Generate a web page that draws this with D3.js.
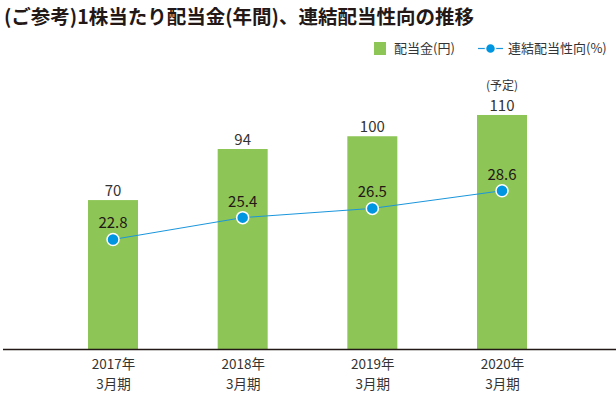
<!DOCTYPE html>
<html>
<head>
<meta charset="utf-8">
<script src="https://cdn.jsdelivr.net/npm/d3@7"></script>
<style>
  body { margin: 0; background: #fff; }
  svg { display: block; font-family: "Noto Sans CJK JP", "Noto Sans", sans-serif; }
</style>
</head>
<body>
<div id="chart"></div>
<script>
var years = ["2017年", "2018年", "2019年", "2020年"];
var periodLabel = "3月期";
var dividends = [70, 94, 100, 110];
var payoutRatios = [22.8, 25.4, 26.5, 28.6];
var forecastNote = ["", "", "", "(予定)"];

var width = 616, height = 397;
var svg = d3.select("#chart").append("svg")
    .attr("width", width)
    .attr("height", height);

var data = years.map(function(y, i) {
    return { year: y, dividend: dividends[i], ratio: payoutRatios[i], note: forecastNote[i] };
});

// title
svg.append("text")
    .attr("x", 4)
    .attr("y", 24)
    .style("font-size", "19.5px")
    .style("font-weight", "bold")
    .style("fill", "#231815")
    .text("(ご参考)1株当たり配当金(年間)、連結配当性向の推移");

// scales
var x = d3.scalePoint().domain(years).range([113, 502]);
var yBar = d3.scaleLinear().domain([0, 120]).range([349, 93.7]);
var yLine = d3.scaleLinear().domain([0, 40]).range([431, 95]);
var barWidth = 50;

// bars
svg.selectAll(".bar")
    .data(data)
    .enter()
    .append("rect")
    .attr("class", "bar")
    .attr("x", function(d) { return x(d.year) - barWidth / 2; })
    .attr("y", function(d) { return yBar(d.dividend); })
    .attr("width", barWidth)
    .attr("height", function(d) { return yBar(0) - yBar(d.dividend); })
    .style("fill", "#8dc556");

// bar value labels
svg.selectAll(".barLabel")
    .data(data)
    .enter()
    .append("text")
    .attr("x", function(d) { return x(d.year); })
    .attr("y", function(d) { return yBar(d.dividend) - 4; })
    .attr("text-anchor", "middle")
    .style("font-size", "15px")
    .style("fill", "#333")
    .text(function(d) { return d.dividend; });

// forecast note above the last bar
svg.selectAll(".note")
    .data(data.filter(function(d) { return d.note; }))
    .enter()
    .append("text")
    .attr("x", function(d) { return x(d.year); })
    .attr("y", function(d) { return yBar(d.dividend) - 25; })
    .attr("text-anchor", "middle")
    .style("font-size", "12px")
    .style("fill", "#333")
    .text(function(d) { return d.note; });

// baseline
svg.append("line")
    .attr("x1", 3)
    .attr("x2", width)
    .attr("y1", yBar(0) + 0.5)
    .attr("y2", yBar(0) + 0.5)
    .style("stroke", "#231815")
    .style("stroke-width", 1.5);

// x axis labels (two lines each)
var xAxis = d3.axisBottom(x).tickSize(0).tickPadding(0);
var gx = svg.append("g")
    .attr("transform", "translate(0," + yBar(0) + ")")
    .call(xAxis);
gx.select(".domain").remove();
gx.selectAll(".tick text").each(function(d) {
    var t = d3.select(this);
    t.text(null)
        .attr("y", 0)
        .attr("dy", null)
        .style("font-size", "13.5px")
        .style("fill", "#333")
        .style("font-family", "\"Noto Sans CJK JP\", sans-serif");
    t.append("tspan").attr("x", 0).attr("y", 20).text(d);
    t.append("tspan").attr("x", 0).attr("y", 40).text(periodLabel);
});

// payout ratio line
var line = d3.line()
    .x(function(d) { return x(d.year); })
    .y(function(d) { return yLine(d.ratio); });

svg.append("path")
    .datum(data)
    .attr("d", line)
    .style("fill", "none")
    .style("stroke", "#1a96dc")
    .style("stroke-width", 1);

svg.selectAll(".dot")
    .data(data)
    .enter()
    .append("circle")
    .attr("cx", function(d) { return x(d.year); })
    .attr("cy", function(d) { return yLine(d.ratio); })
    .attr("r", 6)
    .style("fill", "#0095e0")
    .style("stroke", "#fff")
    .style("stroke-width", 1.5);

svg.selectAll(".ratioLabel")
    .data(data)
    .enter()
    .append("text")
    .attr("x", function(d) { return x(d.year); })
    .attr("y", function(d) { return yLine(d.ratio) - 11; })
    .attr("text-anchor", "middle")
    .style("font-size", "15px")
    .style("fill", "#231815")
    .text(function(d) { return d.ratio.toFixed(1); });

// legend
var legend = svg.append("g").attr("class", "legend");
legend.append("rect")
    .attr("x", 374)
    .attr("y", 42)
    .attr("width", 12)
    .attr("height", 13)
    .style("fill", "#8dc556");
legend.append("text")
    .attr("x", 394)
    .attr("y", 53)
    .style("font-size", "13px")
    .style("fill", "#333")
    .text("配当金(円)");
legend.append("line")
    .attr("x1", 478)
    .attr("x2", 503)
    .attr("y1", 48.5)
    .attr("y2", 48.5)
    .style("stroke", "#1a96dc")
    .style("stroke-width", 1.2);
legend.append("circle")
    .attr("cx", 490.5)
    .attr("cy", 48.5)
    .attr("r", 5)
    .style("fill", "#0095e0")
    .style("stroke", "#fff")
    .style("stroke-width", 1.5);
legend.append("text")
    .attr("x", 508)
    .attr("y", 53)
    .style("font-size", "13px")
    .style("fill", "#333")
    .text("連結配当性向(%)");
</script>
</body>
</html>
